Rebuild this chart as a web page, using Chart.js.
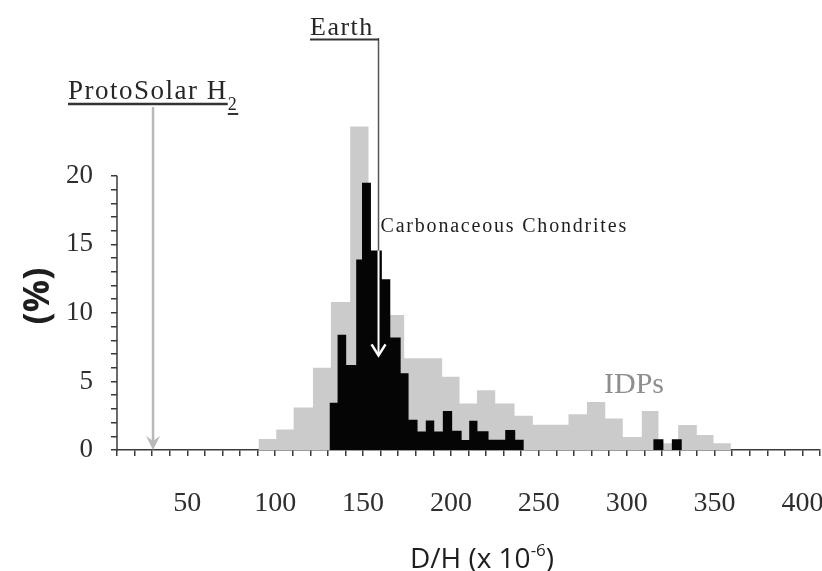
<!DOCTYPE html>
<html>
<head>
<meta charset="utf-8">
<script src="https://cdn.jsdelivr.net/npm/chart.js@4.4.1/dist/chart.umd.min.js"></script>
<style>
  html, body { margin: 0; padding: 0; background: #fff; }
  #wrap { width: 822px; height: 571px; }
</style>
</head>
<body>
<div id="wrap"><canvas id="dhChart"></canvas></div>
<script>
// D/H histogram: IDPs (grey) behind carbonaceous chondrites (black)

// IDPs: bin edges (D/H x 1e-6) and % per bin
const idpEdges = [90.5, 100.6, 110.5, 121.5, 131.7, 142.7, 153.1, 163.2, 173.4, 183.7, 195.0, 204.9, 214.8,
    225.2, 236.2, 246.6, 256.5, 266.9, 277.4, 287.8, 297.8, 308.6, 318.1, 329.3, 339.9, 349.4, 359.3];
const idpPercent = [0.8, 1.5, 3.1, 6.0, 10.8, 23.6, 12.0, 9.85, 6.7, 6.7, 5.35, 3.4, 4.35,
    3.4, 2.5, 1.85, 1.85, 2.6, 3.5, 2.3, 0.95, 2.85, 0.5, 1.82, 1.1, 0.5];

// carbonaceous chondrites: bin edges and % per bin
const ccEdges = [130.9, 135.5, 140.4, 146.1, 149.4, 154.5, 160.7, 165.5, 171.4, 175.9, 181.0, 185.7, 190.5,
    195.4, 200.7, 206.1, 210.4, 215.1, 221.4, 226.1, 230.9, 236.6, 241.4, 315.2, 320.9, 325.7, 331.4];
const ccPercent = [3.45, 8.4, 6.2, 13.9, 19.5, 14.55, 12.45, 8.2, 5.6, 2.2, 1.35, 2.15, 1.35,
    2.85, 1.4, 0.73, 2.14, 1.37, 0.75, 0.75, 1.46, 0.75, 0, 0.78, 0, 0.78];

// axes
const xLabelValues = [50, 100, 150, 200, 250, 300, 350, 400];
const yLabelValues = [0, 5, 10, 15, 20];
const yAxisTop = 20;

// reference markers
const protoSolarDH = 30.5;
const earthDH = 158.8;
const earthArrowTip = 6.9;

const axisColor = '#3a3a3a';
const serif = '"Liberation Serif", "Times New Roman", serif';
const sans = '"Open Sans", "DejaVu Sans", sans-serif';

// histogram as a stepped outline: one point per left edge, closed at the last edge
function stepPoints(edges, values) {
    const pts = values.map((v, i) => ({ x: edges[i], y: v }));
    pts.push({ x: edges[edges.length - 1], y: 0 });
    return pts;
}

function valueAt(edges, values, x) {
    for (let i = 0; i < values.length; i++) {
        if (x >= edges[i] && x < edges[i + 1]) return values[i];
    }
    return 0;
}

function seg(ctx, x1, y1, x2, y2) {
    ctx.beginPath(); ctx.moveTo(x1, y1); ctx.lineTo(x2, y2); ctx.stroke();
}

const annotations = {
    id: 'annotations',
    afterDatasetsDraw(chart) {
        const { ctx, chartArea } = chart;
        const x = chart.scales.x, y = chart.scales.y;
        const y0 = y.getPixelForValue(0);
        ctx.save();
        if ('letterSpacing' in ctx) ctx.letterSpacing = '0px';

        // y axis line, stops at 20
        ctx.strokeStyle = axisColor; ctx.lineWidth = 1.5;
        seg(ctx, chartArea.left, y0 + 1, chartArea.left, y.getPixelForValue(yAxisTop));

        // ProtoSolar H2 marker
        const px = x.getPixelForValue(protoSolarDH);
        ctx.strokeStyle = '#b9b9b9'; ctx.lineWidth = 2.5;
        seg(ctx, px, 107, px, y0 - 8);
        ctx.fillStyle = '#b9b9b9';
        ctx.beginPath();
        ctx.moveTo(px - 7, y0 - 14); ctx.lineTo(px, y0 - 9); ctx.lineTo(px + 7, y0 - 14);
        ctx.lineTo(px, y0); ctx.closePath(); ctx.fill();

        // Earth marker: grey over white, white inside the black bars
        const ex = x.getPixelForValue(earthDH);
        const blackTop = y.getPixelForValue(valueAt(ccEdges, ccPercent, earthDH));
        const tipY = y.getPixelForValue(earthArrowTip);
        ctx.strokeStyle = '#555'; ctx.lineWidth = 1.5;
        seg(ctx, ex, 38, ex, blackTop);
        ctx.strokeStyle = '#fff'; ctx.lineWidth = 2;
        seg(ctx, ex, blackTop, ex, tipY);
        ctx.lineWidth = 2.5;
        ctx.beginPath();
        ctx.moveTo(ex - 7, tipY - 11); ctx.lineTo(ex, tipY); ctx.lineTo(ex + 7, tipY - 11);
        ctx.stroke();

        // labels
        ctx.textBaseline = 'alphabetic';
        ctx.textAlign = 'left';
        ctx.fillStyle = '#262626';
        if ('letterSpacing' in ctx) ctx.letterSpacing = '1.5px';
        ctx.font = '26px ' + serif;
        ctx.fillText('Earth', 310, 35);
        ctx.strokeStyle = '#333'; ctx.lineWidth = 2;
        seg(ctx, 310, 39.5, ex, 39.5);

        ctx.font = '27px ' + serif;
        const ps = 'ProtoSolar H';
        ctx.fillText(ps, 68, 99);
        const psW = ctx.measureText(ps).width;
        ctx.font = '18px ' + serif;
        ctx.fillText('2', 68 + psW, 110);
        const subW = ctx.measureText('2').width;
        ctx.lineWidth = 2.5;
        seg(ctx, 68, 104, 68 + psW, 104);
        ctx.lineWidth = 2;
        seg(ctx, 68 + psW, 114, 68 + psW + subW, 114);

        if ('letterSpacing' in ctx) ctx.letterSpacing = '1.8px';
        ctx.font = '20px ' + serif;
        ctx.fillStyle = '#1e1e1e';
        ctx.fillText('Carbonaceous Chondrites', ex + 2, 232);

        if ('letterSpacing' in ctx) ctx.letterSpacing = '0px';
        ctx.font = '30px ' + serif;
        ctx.fillStyle = '#8e8e8e';
        ctx.fillText('IDPs', 604, 393);

        // y title
        ctx.save();
        ctx.translate(39, 296);
        ctx.rotate(-Math.PI / 2);
        ctx.textAlign = 'center'; ctx.textBaseline = 'middle';
        ctx.font = 'bold 36px ' + sans;
        ctx.fillStyle = '#1e1e1e';
        ctx.fillText('(%)', 0, 0);
        ctx.restore();

        // x title with superscript exponent
        ctx.fillStyle = '#1e1e1e';
        const main = 'D/H (x 10', sup = '-6', close = ')';
        ctx.font = '28px ' + sans;
        const wMain = ctx.measureText(main).width, wClose = ctx.measureText(close).width;
        ctx.font = '17px ' + sans;
        const wSup = ctx.measureText(sup).width;
        let tx = 482 - (wMain + wSup + wClose) / 2;
        ctx.font = '28px ' + sans;
        ctx.fillText(main, tx, 568);
        tx += wMain;
        ctx.font = '17px ' + sans;
        ctx.fillText(sup, tx, 556);
        tx += wSup;
        ctx.font = '28px ' + sans;
        ctx.fillText(close, tx, 568);

        ctx.restore();
    }
};

new Chart(document.getElementById('dhChart'), {
    type: 'line',
    data: {
        datasets: [
            {
                label: 'Carbonaceous Chondrites',
                data: stepPoints(ccEdges, ccPercent),
                stepped: 'before',
                fill: 'origin',
                backgroundColor: '#050505',
                borderWidth: 0,
                pointRadius: 0,
                order: 1
            },
            {
                label: 'IDPs',
                data: stepPoints(idpEdges, idpPercent),
                stepped: 'before',
                fill: 'origin',
                backgroundColor: '#cbcbcb',
                borderWidth: 0,
                pointRadius: 0,
                order: 2
            }
        ]
    },
    options: {
        responsive: true,
        maintainAspectRatio: false,
        animation: false,
        devicePixelRatio: 1,
        layout: { padding: { top: 121, right: 2, left: 0, bottom: 0 } },
        plugins: { legend: { display: false }, tooltip: { enabled: false } },
        scales: {
            x: {
                type: 'linear',
                min: 10,
                max: 410,
                // fixed height; drop the side padding that the tick padding adds
                afterFit: (s) => { s.height = 121; s.paddingLeft = 0; s.paddingRight = 0; },
                border: { display: true, color: axisColor, width: 1.5 },
                grid: { drawOnChartArea: false, drawTicks: true, tickLength: 6, color: axisColor, lineWidth: 1.5 },
                ticks: {
                    stepSize: 10,
                    autoSkip: false,
                    maxRotation: 0,
                    minRotation: 0,
                    padding: 31,
                    color: '#2e2e2e',
                    font: { family: serif, size: 28 },
                    callback: (v) => xLabelValues.includes(v) ? String(v) : ''
                }
            },
            y: {
                min: 0,
                max: 24,
                afterFit: (s) => { s.width = 117; },
                afterBuildTicks: (s) => { s.ticks = s.ticks.filter(t => t.value <= yAxisTop); },
                border: { display: false },
                grid: { drawOnChartArea: false, drawTicks: true, tickLength: 6, color: axisColor, lineWidth: 1.5 },
                ticks: {
                    stepSize: 1,
                    autoSkip: false,
                    padding: 18,
                    color: '#2e2e2e',
                    font: { family: serif, size: 27 },
                    callback: (v) => yLabelValues.includes(v) ? String(v) : ''
                }
            }
        }
    },
    plugins: [annotations]
});
</script>
</body>
</html>
